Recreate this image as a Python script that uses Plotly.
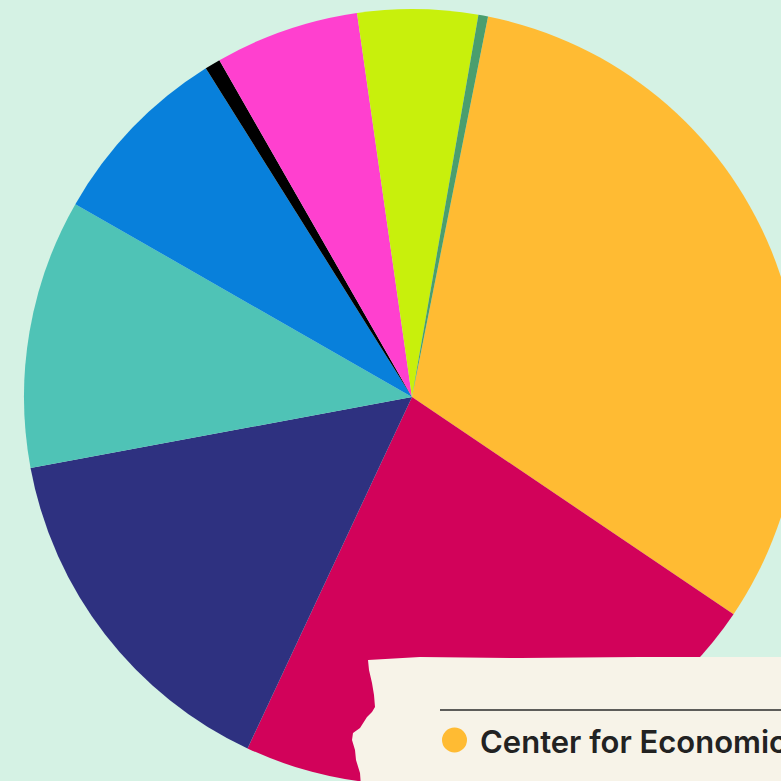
import plotly.graph_objects as go

# ---- data (shares, %) in clockwise order starting at the orange slice ----
labels = [
    "Center for Economic and Policy Research",
    "Institute B",
    "Institute C",
    "Institute D",
    "Institute E",
    "Institute F",
    "Institute G",
    "Institute H",
    "Institute I",
]
values = [31.3, 22.5, 15.1, 11.2, 7.8, 0.65, 6.0, 5.0, 0.4]
colors = ["#FFBB33", "#D2025A", "#2E3180", "#4FC3B6", "#0880DB",
          "#000000", "#FF40CF", "#C8F00C", "#4A9E6E"]
legend_label = labels[0]

W, H = 800, 786
BG = "#D5F2E4"
PAPER = "#F7F3E8"

def px(x):
    return x / W

def py(y):
    return 1 - y / H

fig = go.Figure(go.Pie(
    labels=labels, values=values, sort=False, direction="clockwise",
    rotation=11.3, textinfo="none", hoverinfo="label+percent",
    marker=dict(colors=colors, line=dict(width=0)),
    domain=dict(x=[24 / W, 1.0], y=[1 - 785 / H, 1 - 9 / H]),
    showlegend=False,
))

# torn paper legend card
pts = [(368, 660), (420, 657), (520, 658), (640, 657), (800, 657), (800, 800),
       (362, 800), (360, 773), (356, 760), (355, 750), (352, 740), (353, 733),
       (360, 728), (367, 717), (372, 712), (375, 707), (374, 695), (372, 683),
       (369, 670)]
path = "M " + " L ".join(f"{px(x):.5f},{py(y):.5f}" for x, y in pts) + " Z"
shapes = [
    dict(type="path", xref="paper", yref="paper", path=path,
         fillcolor=PAPER, line=dict(width=0), layer="above"),
    dict(type="line", xref="paper", yref="paper", x0=px(440), x1=px(800),
         y0=py(710), y1=py(710), line=dict(color="#2a2a2a", width=1.6),
         layer="above"),
    dict(type="circle", xref="paper", yref="paper", x0=px(442), x1=px(467),
         y0=py(752.5), y1=py(727.5), fillcolor=colors[0], line=dict(width=0),
         layer="above"),
]

annotations = [
    dict(xref="paper", yref="paper", x=px(478), y=py(741), xanchor="left",
         yanchor="middle", text=legend_label, showarrow=False,
         font=dict(family="Inter, Roboto, sans-serif", size=31, color="#222222",
                   weight=600)),
]

fig.update_layout(
    width=W, height=H, autosize=False,
    margin=dict(l=0, r=0, t=0, b=0),
    paper_bgcolor=BG, plot_bgcolor=BG,
    shapes=shapes, annotations=annotations,
)

fig.write_html(
    "out.html",
    config={"displayModeBar": False},
    post_script="document.body.style.margin='0';document.body.style.overflow='hidden';document.documentElement.style.overflow='hidden';",
)
